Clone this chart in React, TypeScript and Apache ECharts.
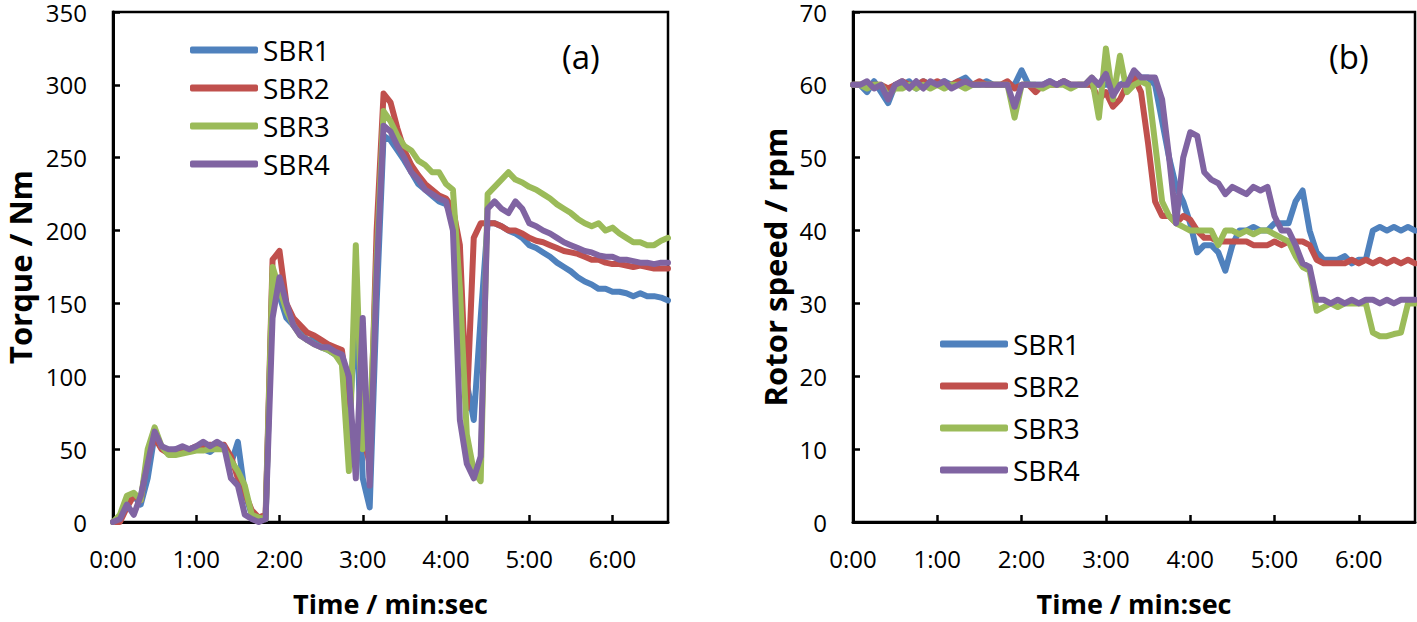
import React, { useEffect, useRef } from "react";
import * as echarts from "echarts";

// time in seconds (0:00 .. 6:40), 5-s steps
const TIME = [
  0, 5, 10, 15, 20, 25, 30, 35, 40, 45, 50, 55, 60, 65, 70, 75, 80, 85, 90, 95,
  100, 105, 110, 115, 120, 125, 130, 135, 140, 145, 150, 155, 160, 165, 170, 175,
  180, 185, 190, 195, 200, 205, 210, 215, 220, 225, 230, 235, 240, 245, 250, 255,
  260, 265, 270, 275, 280, 285, 290, 295, 300, 305, 310, 315, 320, 325, 330, 335,
  340, 345, 350, 355, 360, 365, 370, 375, 380, 385, 390, 395, 400,
];

const SERIES_NAMES = ["SBR1", "SBR2", "SBR3", "SBR4"];
const COLORS = ["#4F81BD", "#C0504D", "#9BBB59", "#8064A2"];

// (a) Torque / Nm
const TORQUE_SBR1 = [
  0, 2, 15, 18, 12, 30, 60, 52, 48, 50, 49, 50, 51, 50, 48, 52, 52, 40, 55, 20,
  5, 3, 2, 170, 155, 140, 135, 130, 125, 125, 120, 118, 115, 112, 60, 150,
  30, 10, 150, 265, 262, 255, 248, 240, 232, 228, 224, 220, 218, 210, 150, 95,
  70, 140, 205, 205, 203, 200, 198, 195, 190, 188, 185, 182, 178, 175, 172, 168,
  165, 163, 160, 160, 158, 158, 157, 155, 157, 155, 155, 154, 152,
];
const TORQUE_SBR2 = [
  0, 0, 10, 18, 15, 45, 58, 50, 47, 48, 50, 50, 52, 52, 53, 52, 53, 45, 30, 20,
  8, 3, 5, 180, 186, 150, 140, 135, 130, 128, 125, 122, 120, 118, 80, 50,
  60, 40, 200, 294, 288, 270, 255, 245, 238, 232, 228, 224, 222, 215, 190, 78,
  195, 205, 205, 205, 203, 200, 200, 198, 195, 193, 192, 190, 188, 186, 185, 184,
  182, 180, 180, 178, 177, 177, 176, 175, 176, 175, 174, 174, 174,
];
const TORQUE_SBR3 = [
  0, 5, 18, 20, 15, 50, 65, 52, 46, 46, 47, 48, 49, 49, 50, 50, 50, 42, 35, 25,
  5, 3, 2, 175, 160, 145, 135, 128, 125, 122, 120, 118, 115, 108, 35, 190,
  50, 60, 180, 282, 275, 265, 258, 255, 248, 245, 240, 240, 232, 228, 160, 60,
  35, 28, 225, 230, 235, 240, 235, 233, 230, 228, 225, 222, 218, 215, 212, 208,
  205, 203, 205, 200, 202, 198, 195, 192, 192, 190, 190, 193, 195,
];
const TORQUE_SBR4 = [
  0, 2, 12, 5, 18, 40, 62, 52, 50, 50, 52, 50, 52, 55, 52, 55, 52, 30, 25, 5,
  2, 0, 2, 140, 168, 150, 135, 128, 125, 122, 120, 120, 117, 115, 100, 30,
  140, 25, 170, 272, 268, 258, 250, 240, 235, 228, 225, 222, 220, 200, 70, 40,
  30, 45, 215, 220, 215, 212, 220, 215, 205, 203, 200, 198, 195, 192, 190, 188,
  186, 185, 183, 182, 182, 180, 180, 179, 178, 178, 177, 178, 178,
];

// (b) Rotor speed / rpm
const SPEED_SBR1 = [
  60, 60, 59, 60.5, 59, 57.5, 60, 60, 60.5, 59.5, 60.5, 60, 60, 60.5, 60, 60.5, 61, 60, 60, 60.5,
  60, 60, 60, 60, 62, 60, 60, 60, 60.5, 60, 60.5, 60, 60, 60, 60, 60,
  60, 60, 60, 60.5, 61, 61, 61, 60, 55, 50, 46, 44, 41, 37, 38, 38,
  37, 34.5, 38, 40, 40, 40.5, 40, 40, 41, 41, 41, 44, 45.5, 40, 37, 36,
  36, 36, 36.5, 35.5, 36, 36, 40, 40.5, 40, 40.5, 40, 40.5, 40,
];
const SPEED_SBR2 = [
  60, 60, 60, 60, 60, 59.5, 60, 60.5, 60, 60, 60.5, 60, 60.5, 60, 60, 60.5, 60, 60, 60.5, 60,
  60, 60, 60.5, 59.5, 60, 60, 59, 60, 60, 60, 60.5, 60, 60, 60, 60, 58,
  59, 57, 58, 60, 61, 59, 52, 44, 42, 42, 41, 42, 41.5, 40, 39, 39,
  38.5, 38.5, 38.5, 38.5, 38.5, 38, 38, 38, 38.5, 38, 38.5, 38.5, 38.5, 38, 36, 35.5,
  35.5, 35.5, 35.5, 36, 35.5, 36, 35.5, 36, 35.5, 36, 35.5, 36, 35.5,
];
const SPEED_SBR3 = [
  60, 60, 59.5, 60, 60, 58.5, 59.5, 59.5, 60, 59.5, 60, 59.5, 60, 59.5, 60, 60, 59.5, 60, 60, 60,
  60, 60, 60, 55.5, 60, 60, 60, 59.5, 60, 60, 60, 59.5, 60, 60, 61, 55.5,
  65, 58, 64, 59, 60, 60.5, 60, 52, 44, 42, 41, 40.5, 40, 40, 40, 40,
  38, 40, 40, 39.5, 40, 39.5, 40, 40, 39.5, 39, 38.5, 36.5, 35, 34.5, 29, 29.5,
  30, 29.5, 30, 30, 30, 30, 26, 25.5, 25.5, 25.8, 26, 30, 30,
];
const SPEED_SBR4 = [
  60, 60, 60.5, 59.5, 60, 58, 60, 60.5, 59.5, 60.5, 59.5, 60.5, 60, 60.5, 59.5, 60, 60.5, 60, 60, 60,
  60, 60, 60, 57, 60, 60, 60, 60, 60.5, 60, 60.5, 60, 60, 60, 61, 60,
  61.5, 58.5, 60, 60, 62, 61, 61, 61, 58, 50, 41, 50, 53.5, 53, 48, 47,
  46.5, 45, 46, 45.5, 45, 46, 45.5, 46, 42, 40, 40, 38, 35.5, 35, 30.5, 30.5,
  30, 30.5, 30, 30.5, 30, 30.5, 30.5, 30, 30.5, 30, 30.5, 30.5, 30.5,
];

const X_MIN = 0;
const X_MAX = 400;
const X_STEP = 60;

const FONT = "Open Sans";

const fmtTime = (v: number) => {
  const m = Math.floor(v / 60);
  const s = Math.round(v % 60);
  return `${m}:${s < 10 ? "0" + s : s}`;
};

export default function App() {
  const ref = useRef<HTMLDivElement>(null);

  useEffect(() => {
    if (!ref.current) return;
    const chart = echarts.init(ref.current, null, { renderer: "svg" });

    const torque = [TORQUE_SBR1, TORQUE_SBR2, TORQUE_SBR3, TORQUE_SBR4];
    const speed = [SPEED_SBR1, SPEED_SBR2, SPEED_SBR3, SPEED_SBR4];

    const axisLine = { show: true, lineStyle: { color: "#000", width: 3 } };
    const axisTick = { show: true, inside: true, length: 7, lineStyle: { color: "#000", width: 2.5 } };

    const xAxisBase = (gridIndex: number) => ({
      type: "value",
      gridIndex,
      min: X_MIN,
      max: X_MAX,
      interval: X_STEP,
      axisLine,
      axisTick,
      splitLine: { show: false },
      axisLabel: {
        formatter: fmtTime,
        fontFamily: FONT,
        fontSize: 24,
        color: "#000",
        margin: 24,
        showMaxLabel: false,
      },
      name: "Time / min:sec",
      nameLocation: "middle",
      nameGap: 68,
      nameTextStyle: { fontFamily: FONT, fontWeight: "bold", fontSize: 27, color: "#000" },
    });

    const mkSeries = (data: number[][], xi: number) =>
      data.map((vals, i) => ({
        type: "line",
        name: SERIES_NAMES[i],
        xAxisIndex: xi,
        yAxisIndex: xi,
        data: TIME.map((t, k) => [t, vals[k]]),
        showSymbol: false,
        symbol: "none",
        lineStyle: { color: COLORS[i], width: 6, cap: "round", join: "round" },
        itemStyle: { color: COLORS[i] },
        z: 3 + i,
      }));

    const legendBase = {
      orient: "vertical",
      padding: 0,
      icon: "roundRect",
      itemWidth: 68,
      itemHeight: 7,
      itemTextGap: 4,
      selectedMode: false,
      data: SERIES_NAMES,
      textStyle: { fontFamily: FONT, fontSize: 28, color: "#000", lineHeight: 30 },
    };

    chart.setOption({
      animation: false,
      backgroundColor: "#fff",
      grid: [
        { left: 113, right: 749, top: 10, bottom: 100, show: true, borderColor: "#000", borderWidth: 2.5, backgroundColor: "transparent" },
        { left: 853, right: 2, top: 10, bottom: 100, show: true, borderColor: "#000", borderWidth: 2.5, backgroundColor: "transparent" },
      ],
      xAxis: [xAxisBase(0), xAxisBase(1)],
      yAxis: [
        {
          type: "value",
          gridIndex: 0,
          min: 0,
          max: 350,
          interval: 50,
          axisLine,
          axisTick,
          splitLine: { show: false },
          axisLabel: { fontFamily: FONT, fontSize: 24, color: "#000", margin: 26 },
          name: "Torque / Nm",
          nameLocation: "middle",
          nameGap: 78,
          nameTextStyle: { fontFamily: FONT, fontWeight: "bold", fontSize: 31, color: "#000" },
        },
        {
          type: "value",
          gridIndex: 1,
          min: 0,
          max: 70,
          interval: 10,
          axisLine,
          axisTick,
          splitLine: { show: false },
          axisLabel: { fontFamily: FONT, fontSize: 24, color: "#000", margin: 26 },
          name: "Rotor speed / rpm",
          nameLocation: "middle",
          nameGap: 63,
          nameTextStyle: { fontFamily: FONT, fontWeight: "bold", fontSize: 31, color: "#000" },
        },
      ],
      legend: [
        { ...legendBase, left: 190, top: 35, itemGap: 8 },
        { ...legendBase, left: 940, top: 329, itemGap: 12 },
      ],
      graphic: [
        { type: "text", left: 562, top: 40, style: { text: "(a)", fontFamily: FONT, fontSize: 33, fill: "#000" } },
        { type: "text", left: 1329, top: 40, style: { text: "(b)", fontFamily: FONT, fontSize: 33, fill: "#000" } },
      ],
      series: [...mkSeries(torque, 0), ...mkSeries(speed, 1)],
    });

    return () => chart.dispose();
  }, []);

  return (
    <div
      ref={ref}
      style={{ position: "absolute", left: 0, top: 0, width: 1417, height: 622, background: "#fff" }}
    />
  );
}
